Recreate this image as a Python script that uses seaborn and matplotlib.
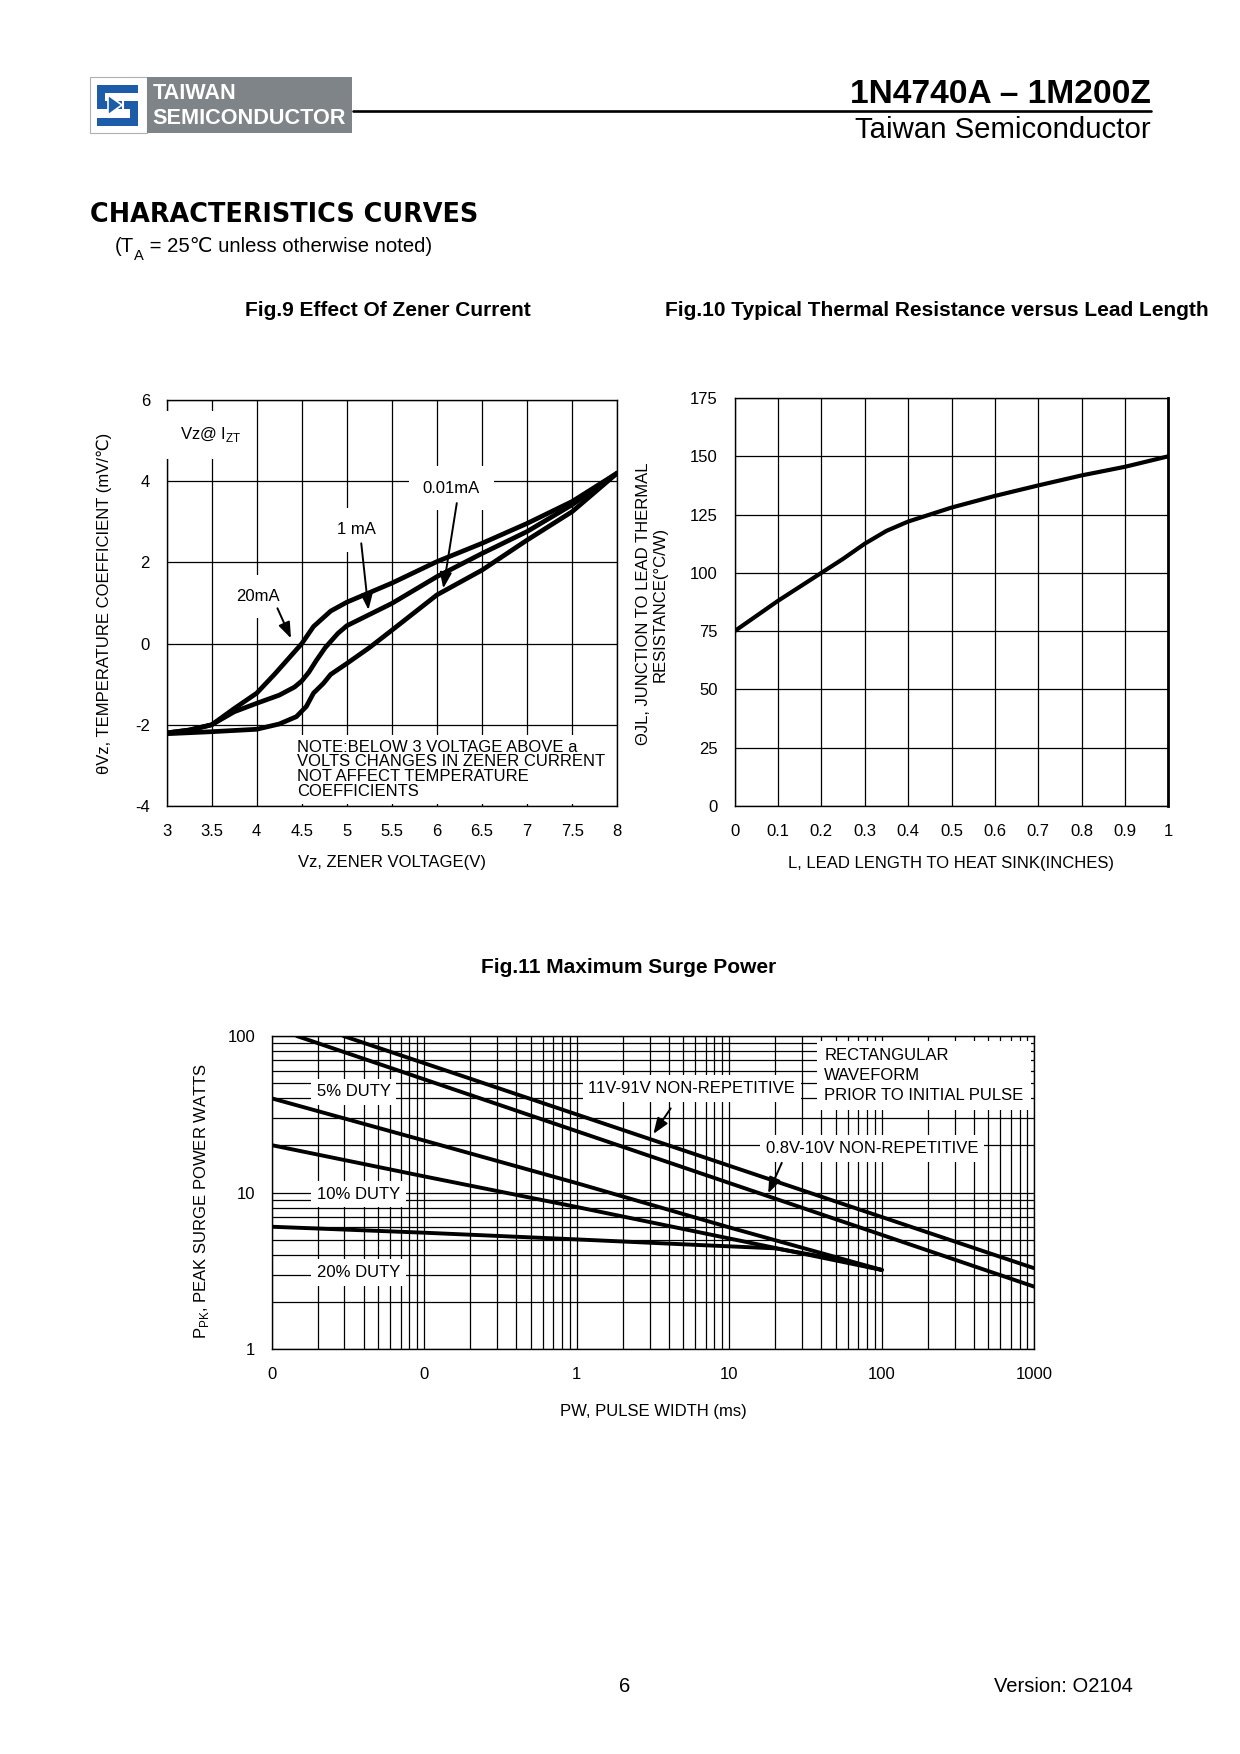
import numpy as np
import matplotlib
matplotlib.use("Agg")
import matplotlib.pyplot as plt
import seaborn as sns
from matplotlib.patches import Rectangle, Polygon
from matplotlib.ticker import FixedLocator, FixedFormatter, LogLocator, NullFormatter

# ---- Fig.9 : temperature coefficient vs zener voltage ----
vz_20ma = [3.0, 3.25, 3.5, 3.75, 4.0, 4.2, 4.4, 4.5, 4.63, 4.82, 5.0, 5.5, 6.0, 6.5, 7.0, 7.5, 8.0]
tc_20ma = [-2.2, -2.13, -2.0, -1.6, -1.22, -0.75, -0.25, 0.0, 0.42, 0.8, 1.02, 1.49, 2.02, 2.47, 2.96, 3.5, 4.2]
vz_1ma = [3.0, 3.25, 3.5, 3.75, 4.0, 4.25, 4.42, 4.5, 4.58, 4.66, 4.76, 4.9, 5.0, 5.5, 6.0, 6.5, 7.0, 7.5, 8.0]
tc_1ma = [-2.2, -2.13, -2.0, -1.68, -1.47, -1.27, -1.07, -0.92, -0.7, -0.42, -0.1, 0.25, 0.44, 0.99, 1.65, 2.22, 2.76, 3.42, 4.2]
vz_001ma = [3.0, 3.5, 4.0, 4.25, 4.44, 4.55, 4.63, 4.74, 4.82, 5.0, 5.25, 5.5, 6.0, 6.5, 7.0, 7.5, 8.0]
tc_001ma = [-2.22, -2.17, -2.11, -1.98, -1.8, -1.55, -1.22, -0.98, -0.76, -0.49, -0.1, 0.33, 1.2, 1.81, 2.55, 3.25, 4.2]
volt_ticks = [3, 3.5, 4, 4.5, 5, 5.5, 6, 6.5, 7, 7.5, 8]
volt_labels = ["3", "3.5", "4", "4.5", "5", "5.5", "6", "6.5", "7", "7.5", "8"]
tc_ticks = [-4, -2, 0, 2, 4, 6]

# ---- Fig.10 : thermal resistance vs lead length ----
lead_len = [0, 0.1, 0.2, 0.25, 0.3, 0.35, 0.4, 0.45, 0.5, 0.6, 0.7, 0.8, 0.9, 1.0]
theta_jl = [75, 88, 100, 106, 112.5, 118, 122, 125, 128, 133, 137.5, 141.8, 145.5, 150]
lead_ticks = [0, 0.1, 0.2, 0.3, 0.4, 0.5, 0.6, 0.7, 0.8, 0.9, 1.0]
lead_labels = ["0", "0.1", "0.2", "0.3", "0.4", "0.5", "0.6", "0.7", "0.8", "0.9", "1"]
theta_ticks = [0, 25, 50, 75, 100, 125, 150, 175]

# ---- Fig.11 : maximum surge power ----
pw_hi = [0.0295, 1000]
ppk_hi = [100, 3.29]          # 11V-91V non-repetitive
pw_lo = [0.0146, 1000]
ppk_lo = [100, 2.51]          # 0.8V-10V non-repetitive
pw_duty = [0.01, 0.1, 1, 10, 100]
ppk_5 = [40, 21.5, 11.5, 6.0, 3.21]
ppk_10 = [20.1, 12.7, 8.1, 5.1, 3.21]
pw_20 = [0.01, 0.1, 1, 6.4, 20, 48, 100]
ppk_20 = [6.06, 5.55, 5.03, 4.63, 4.41, 3.8, 3.21]
pw_ticks = [0.01, 0.1, 1, 10, 100, 1000]
pw_labels = ["0", "0", "1", "10", "100", "1000"]
ppk_ticks = [1, 10, 100]
ppk_labels = ["1", "10", "100"]

sns.set_theme(style="white", rc={
    "axes.edgecolor": "black", "axes.labelcolor": "black", "text.color": "black",
    "xtick.color": "black", "ytick.color": "black", "axes.linewidth": 1.0,
})
plt.rcParams["font.family"] = ["Liberation Sans", "DejaVu Sans"]
plt.rcParams["axes.unicode_minus"] = False

W, H = 1240, 1754
fig = plt.figure(figsize=(W / 100, H / 100), dpi=100)


def px_axes(l, t, r, b):
    return fig.add_axes([l / W, 1 - b / H, (r - l) / W, (b - t) / H])


# page layer in pixel coordinates (y downwards)
page = fig.add_axes([0, 0, 1, 1], zorder=-1)
page.set_xlim(0, W)
page.set_ylim(H, 0)
page.axis("off")

# logo
page.add_patch(Rectangle((89.5, 76.7), 57, 56, fc="white", ec="#b0b0b0", lw=0.8))
page.add_patch(Rectangle((146.7, 76.7), 205, 56, fc="#7f8488", ec="none"))
blue = "#1d5ca8"
for x0, y0, w, h in [(96.7, 85, 41.6, 8), (96.7, 85, 8.5, 24), (96.7, 101, 41.6, 8),
                     (129.8, 101, 8.5, 25), (96.7, 118, 41.6, 8)]:
    page.add_patch(Rectangle((x0, y0), w, h, fc=blue, ec="none"))
page.add_patch(Polygon([[108, 95], [108, 115], [122, 105]], closed=True, fc=blue, ec="white", lw=1.2))
page.plot([123, 123], [94, 116], color="white", lw=1.5)
page.text(152.5, 93.3, "TAIWAN", color="white", fontsize=15.6, fontweight="bold", va="center", ha="left")
page.text(152.5, 118.3, "SEMICONDUCTOR", color="white", fontsize=15.6, fontweight="bold", va="center", ha="left")

page.text(1151, 103.3, "1N4740A \u2013 1M200Z", ha="right", va="baseline", fontsize=24.1, fontweight="bold")
page.plot([353, 1151], [110.7, 110.7], color="black", lw=1.9)
page.text(1151, 138.3, "Taiwan Semiconductor", ha="right", va="baseline", fontsize=21.2)

page.text(90, 221.7, "CHARACTERISTICS CURVES", ha="left", va="baseline", fontsize=18.4,
          fontweight="heavy", family="DejaVu Sans")
t1 = page.text(115, 251.7, "(T", ha="left", va="baseline", fontsize=14.6)
t2 = page.annotate("A", xy=(1, 0), xycoords=t1, ha="left", va="center", fontsize=10.5)
page.annotate(" = 25\u2103 unless otherwise noted)", xy=(1, 0), xycoords=(t2, t1),
              ha="left", va="bottom", fontsize=14.6)

page.text(387.5, 311, "Fig.9 Effect Of Zener Current", ha="center", va="center", fontsize=15, fontweight="bold")
page.text(936.5, 311, "Fig.10 Typical Thermal Resistance versus Lead Length", ha="center", va="center",
          fontsize=15, fontweight="bold")
page.text(628.5, 967.5, "Fig.11 Maximum Surge Power", ha="center", va="center", fontsize=15, fontweight="bold")

page.text(625, 1687, "6", ha="center", va="center", fontsize=14.5)
page.text(1133, 1687, "Version: O2104", ha="right", va="center", fontsize=14.5)

box = dict(boxstyle="square,pad=0.35", fc="white", ec="none")
arrow = dict(arrowstyle="-|>,head_length=0.8,head_width=0.3", color="black", lw=1.4, shrinkA=0, shrinkB=0)

# ---------------- Fig.9 ----------------
ax9 = px_axes(166.6, 400, 617.2, 806)
for v, t in [(vz_20ma, tc_20ma), (vz_1ma, tc_1ma), (vz_001ma, tc_001ma)]:
    sns.lineplot(x=v, y=t, ax=ax9, color="black", lw=3.4, sort=False, zorder=3)
ax9.set_xlim(3, 8)
ax9.set_ylim(-4, 6)
ax9.set_xticks(volt_ticks)
ax9.set_xticklabels(volt_labels)
ax9.set_yticks(tc_ticks)
ax9.grid(True, color="black", lw=0.9)
ax9.tick_params(length=0, labelsize=12)
ax9.tick_params(axis="x", pad=13)
ax9.tick_params(axis="y", pad=12)
ax9.set_xlabel("Vz, ZENER VOLTAGE(V)", fontsize=12, va="center")
ax9.xaxis.set_label_coords(0.5, -0.138)
ax9.set_ylabel("\u03b8Vz, TEMPERATURE COEFFICIENT (mV/\u2103)", fontsize=12, va="center")
ax9.yaxis.set_label_coords(-0.139, 0.5)
big = dict(boxstyle="square,pad=0.85", fc="white", ec="none")
ax9.text(3.15, 5.14, r"Vz@ I$_{\mathregular{ZT}}$", fontsize=12, va="center", ha="left", bbox=big, zorder=4)
ax9.text(6.16, 3.83, "0.01mA", fontsize=12, va="center", ha="center", bbox=big, zorder=4)
ax9.text(5.11, 2.8, "1 mA", fontsize=12, va="center", ha="center", bbox=big, zorder=4)
ax9.text(4.01, 1.16, "20mA", fontsize=12, va="center", ha="center", bbox=big, zorder=4)
ax9.annotate("", xy=(6.07, 1.36), xytext=(6.22, 3.46), arrowprops=arrow, zorder=5)
ax9.annotate("", xy=(5.24, 0.83), xytext=(5.16, 2.47), arrowprops=arrow, zorder=5)
ax9.annotate("", xy=(4.38, 0.13), xytext=(4.23, 0.87), arrowprops=arrow, zorder=5)
ax9.text(4.45, -2.37, "NOTE:BELOW 3 VOLTAGE ABOVE a\nVOLTS CHANGES IN ZENER CURRENT\nNOT AFFECT TEMPERATURE\nCOEFFICIENTS",
         fontsize=12, va="top", ha="left", linespacing=0.97,
         bbox=dict(boxstyle="square,pad=0.3", fc="white", ec="none"), zorder=4)

# ---------------- Fig.10 ----------------
ax10 = px_axes(734.6, 398, 1168.4, 806)
sns.lineplot(x=lead_len, y=theta_jl, ax=ax10, color="black", lw=3.0, zorder=3)
ax10.set_xlim(0, 1)
ax10.set_ylim(0, 175)
ax10.set_xticks(lead_ticks)
ax10.set_xticklabels(lead_labels)
ax10.set_yticks(theta_ticks)
ax10.grid(True, color="black", lw=0.9)
ax10.spines["right"].set_linewidth(2.0)
ax10.tick_params(length=0, labelsize=12)
ax10.tick_params(axis="x", pad=13)
ax10.tick_params(axis="y", pad=12)
ax10.set_xlabel("L, LEAD LENGTH TO HEAT SINK(INCHES)", fontsize=12, va="center")
ax10.xaxis.set_label_coords(0.5, -0.141)
ax10.set_ylabel("\u0398JL, JUNCTION TO LEAD THERMAL\nRESISTANCE(\u00b0C/W)", fontsize=12, va="center",
                linespacing=1.07)
ax10.yaxis.set_label_coords(-0.191, 0.495)

# ---------------- Fig.11 ----------------
ax11 = px_axes(271.7, 1036, 1034.3, 1349.3)
ax11.set_xscale("log")
ax11.set_yscale("log")
for x, y in [(pw_hi, ppk_hi), (pw_lo, ppk_lo), (pw_duty, ppk_5), (pw_duty, ppk_10), (pw_20, ppk_20)]:
    sns.lineplot(x=x, y=y, ax=ax11, color="black", lw=2.8, zorder=3)
ax11.set_xlim(0.01, 1000)
ax11.set_ylim(1, 100)
ax11.xaxis.set_major_locator(FixedLocator(pw_ticks))
ax11.xaxis.set_major_formatter(FixedFormatter(pw_labels))
ax11.xaxis.set_minor_locator(LogLocator(base=10, subs=np.arange(2, 10), numticks=20))
ax11.xaxis.set_minor_formatter(NullFormatter())
ax11.yaxis.set_major_locator(FixedLocator(ppk_ticks))
ax11.yaxis.set_major_formatter(FixedFormatter(ppk_labels))
ax11.yaxis.set_minor_locator(LogLocator(base=10, subs=np.arange(2, 10), numticks=20))
ax11.yaxis.set_minor_formatter(NullFormatter())
ax11.grid(True, which="both", color="black", lw=0.9)
ax11.tick_params(which="both", length=0, labelsize=12)
ax11.tick_params(axis="x", which="both", pad=13)
ax11.tick_params(axis="y", which="both", pad=12)
ax11.set_xlabel("PW, PULSE WIDTH (ms)", fontsize=12, va="center")
ax11.xaxis.set_label_coords(0.5, -0.197)
ax11.set_ylabel(r"P$_{\mathregular{PK}}$, PEAK SURGE POWER WATTS", fontsize=12, va="center")
ax11.yaxis.set_label_coords(-0.092, 0.473)

for y, s in [(44, "5% DUTY"), (9.8, "10% DUTY"), (3.1, "20% DUTY")]:
    ax11.text(0.0197, y, s, fontsize=12, va="center", ha="left", bbox=box, zorder=4)
ax11.text(5.69, 46.3, "11V-91V NON-REPETITIVE", fontsize=12, va="center", ha="center", bbox=box, zorder=4)
ax11.text(86, 19.2, "0.8V-10V NON-REPETITIVE", fontsize=12, va="center", ha="center", bbox=box, zorder=4)
ax11.text(41.9, 55.8, "RECTANGULAR\nWAVEFORM\nPRIOR TO INITIAL PULSE", fontsize=12, va="center", ha="left",
          linespacing=1.4, bbox=dict(boxstyle="square,pad=0.45", fc="white", ec="none"), zorder=4)
ax11.annotate("", xy=(3.18, 23.7), xytext=(4.13, 34.5), arrowprops=arrow, zorder=5)
ax11.annotate("", xy=(18.0, 9.9), xytext=(22.1, 15.5), arrowprops=arrow, zorder=5)

fig.savefig("out.png", dpi=100, facecolor="white")
